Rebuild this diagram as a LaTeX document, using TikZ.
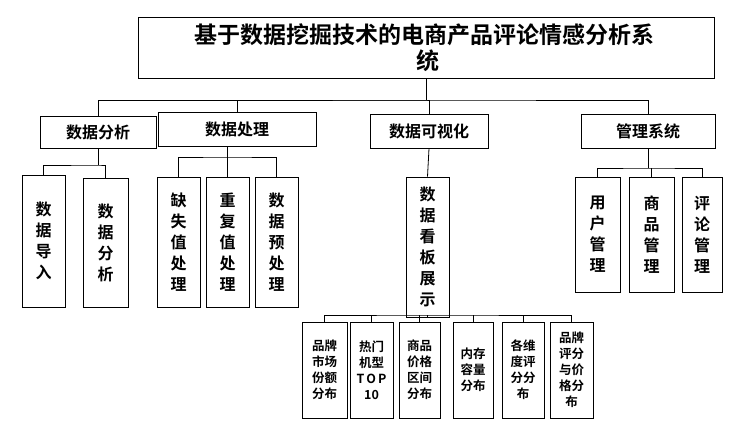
\documentclass[tikz,border=0pt]{standalone}
\usepackage{fontspec}
\newfontfamily\cjk{Noto Sans CJK SC}[BoldFont={Noto Sans CJK SC Bold}]
\begin{document}
\begin{tikzpicture}[x=1pt,y=-1pt,
  bx/.style={draw,thick,inner sep=0pt,font=\cjk\bfseries\fontsize{16}{21}\selectfont,align=center},
  sm/.style={draw,thick,inner sep=0pt,font=\cjk\bfseries\fontsize{12.5}{16}\selectfont,align=center},
  ln/.style={thick}]
\useasboundingbox (0,0) rectangle (749,439);
\newcommand\bb[6]{\node[#6,minimum width=#3-#1,minimum height=#4-#2] (#5) at ({(#1+#3)/2},{(#2+#4)/2}) {};}
\bb{138}{17}{714}{78}{T}{bx}
\node[font=\cjk\bfseries\fontsize{23}{26}\selectfont,anchor=north west,align=left,inner sep=0pt] at (194,24) {基于数据挖掘技术的电商产品评论情感分析系\\\hspace*{222pt}统};
% level1
\node[bx,minimum width=116,minimum height=32] (A) at (98,132) {数据分析};
\node[bx,minimum width=158,minimum height=34] (B) at (237,129) {数据处理};
\node[bx,minimum width=118,minimum height=34] (C) at (429,131) {数据可视化};
\node[bx,minimum width=134,minimum height=34] (D) at (648,131) {管理系统};
\coordinate (t0) at (T.south|-0,100);
\draw[ln] (T.south) -- (t0);
\draw[ln] (A.north) |- (t0) -| (D.north);
\draw[ln] (B.north) |- (t0) -| (C.north);
% A children
\node[bx,minimum width=43,minimum height=132] (A1) at (43.5,241) {数\\据\\导\\入};
\node[bx,minimum width=45,minimum height=129] (A2) at (105.5,242.5) {数\\据\\分\\析};
\draw[ln] (A.south) -- (A.south|-0,165);
\draw[ln] (A1.north) |- (A.south|-0,165) -| (A2.north);
% B children
\node[bx,minimum width=43,minimum height=130] (B1) at (178.5,242) {缺\\失\\值\\处\\理};
\node[bx,minimum width=43,minimum height=130] (B2) at (227.5,242) {重\\复\\值\\处\\理};
\node[bx,minimum width=43,minimum height=130] (B3) at (276.5,242) {数\\据\\预\\处\\理};
\draw[ln] (B2.north|-B.south) -- (B2.north);
\draw[ln] (B1.north) |- (B2.north|-0,157) -| (B3.north);
% C child
\node[bx,minimum width=43,minimum height=140] (C1) at (427.5,247) {数\\据\\看\\板\\展\\示};
\draw[ln] (C.south) -- (C1.north);
% D children
\node[bx,minimum width=45,minimum height=115] (D1) at (597.5,234.5) {用\\户\\管\\理};
\node[bx,minimum width=45,minimum height=115] (D2) at (651.5,234.5) {商\\品\\管\\理};
\node[bx,minimum width=40,minimum height=115] (D3) at (702,234.5) {评\\论\\管\\理};
\draw[ln] (D.south) -- (D.south|-0,168);
\draw[ln] (D1.north) |- (D.south|-0,168) -| (D3.north);
\draw[ln] (D2.north) -- (D2.north|-0,168);
% C1 children
\bb{302}{322}{347}{418}{E1}{sm}
\bb{350}{322}{393}{418}{E2}{sm}
\bb{399}{322}{440}{418}{E3}{sm}
\bb{453}{322}{493}{418}{E4}{sm}
\bb{502}{322}{544}{418}{E5}{sm}
\bb{550}{322}{593}{418}{E6}{sm}
\node[sm,draw=none] at (E1) {品牌\\市场\\份额\\分布};
\node[sm,draw=none] at (E2) {热门\\机型\\T\,O\,P\\10};
\node[sm,draw=none] at (E3) {商品\\价格\\区间\\分布};
\node[sm,draw=none] at (E4) {内存\\容量\\分布};
\node[sm,draw=none] at (E5) {各维\\度评\\分分\\布};
\node[sm,draw=none] at (E6) {品牌\\评分\\与价\\格分\\布};
\coordinate (cb) at (C1.south|-0,315);
\draw[ln] (C1.south) -- (cb);
\draw[ln] (E1.north) |- (cb) -| (E6.north);
\foreach \n in {E2,E3,E4,E5} \draw[ln] (\n.north) -- (\n.north|-cb);
\end{tikzpicture}
\end{document}
